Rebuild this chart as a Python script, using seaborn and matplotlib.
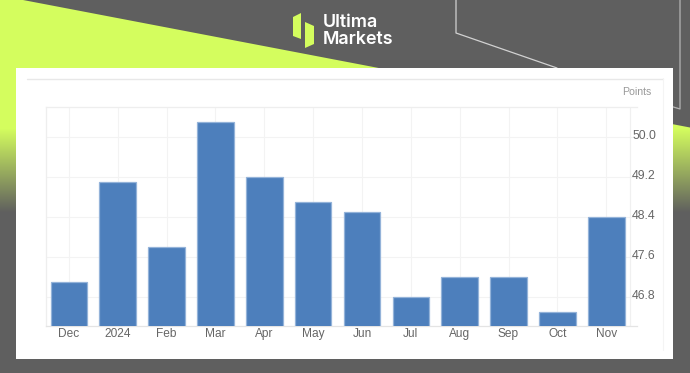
import matplotlib
matplotlib.use("Agg")
import matplotlib.pyplot as plt
from matplotlib.colors import LinearSegmentedColormap
from matplotlib.patches import Polygon, Rectangle
from matplotlib.transforms import ScaledTranslation
import numpy as np
import seaborn as sns

months = ["Dec", "2024", "Feb", "Mar", "Apr", "May", "Jun", "Jul", "Aug", "Sep", "Oct", "Nov"]
pmi = [47.1, 49.1, 47.8, 50.3, 49.2, 48.7, 48.5, 46.8, 47.2, 47.2, 46.5, 48.4]
y_ticks = [46.8, 47.6, 48.4, 49.2, 50.0]

W, H = 690, 373
GREY = "#5f5f5f"
LIME = "#d4fd5e"
BLUE = "#4d7fbc"

sns.set_theme(style="white")
plt.rcParams["font.family"] = ["Liberation Sans", "DejaVu Sans"]

fig = plt.figure(figsize=(W / 100, H / 100), dpi=100, facecolor=GREY)

# banner behind the card, in pixel coordinates
bg = fig.add_axes([0, 0, 1, 1])
bg.axis("off")
fade = LinearSegmentedColormap.from_list("fade", [LIME, GREY], N=256)
grad = np.clip((np.arange(240)[:, None] - 128) / 84, 0, 1)
img = bg.imshow(grad, cmap=fade, vmin=0, vmax=1, extent=[0, W, 240, 0], aspect="auto", zorder=1)
bg.set_xlim(0, W)
bg.set_ylim(H, 0)
lime_shape = Polygon([(0, 0), (23, 0), (690, 127.5), (690, 240), (0, 240)], facecolor="none", edgecolor="none")
bg.add_patch(lime_shape)
img.set_clip_path(lime_shape)

bg.plot([456, 456, 557], [0, 33, 68], color="#d2d2d2", lw=0.9, zorder=2)
bg.plot([680, 680, 670], [0, 109, 106], color="#b5b5b5", lw=0.9, zorder=2)

bg.add_patch(Rectangle((16, 68), 657, 291, facecolor="white", edgecolor="none", zorder=3))
bg.plot([27, 663], [78.5, 78.5], color="#e8e8e8", lw=1, zorder=4)
bg.plot([662.5, 662.5], [78, 350], color="#f4f4f4", lw=0.8, zorder=4)

# logo
bg.add_patch(Polygon([(293, 17), (301, 13), (301, 39), (293, 36)], facecolor=LIME, edgecolor="none", zorder=4))
bg.add_patch(Polygon([(305, 22), (314, 26), (314, 44), (305, 48)], facecolor=LIME, edgecolor="none", zorder=4))
bg.text(322.5, 22.5, "Ultima", family="Inter", weight=600, fontsize=12.9, color="white", va="center", ha="left", zorder=5)
bg.text(322.5, 39.5, "Markets", family="Inter", weight=600, fontsize=12.9, color="white", va="center", ha="left", zorder=5)
bg.text(651.5, 92, "Points", fontsize=7.6, color="#999999", va="center", ha="right", zorder=5)

# chart, placed at the pixel box of the plot area
left, right, top, bottom = 46, 637, 107, 326
ax = fig.add_axes([left / W, 1 - bottom / H, (right - left) / W, (bottom - top) / H], zorder=2)
ax.patch.set_alpha(0)
sns.barplot(x=months, y=pmi, color=BLUE, saturation=1, width=0.75, edgecolor="#94b3d9", linewidth=0.9,
            zorder=3, ax=ax)
ax.set_xlim(-0.47, 11.63)
ax.set_ylim(46.22, 50.6)
ax.set_xlabel("")
ax.set_ylabel("")
ax.yaxis.tick_right()
ax.set_yticks(y_ticks, [f"{v:.1f}" for v in y_ticks])
ax.tick_params(axis="both", length=0, labelcolor="#666666")
ax.tick_params(axis="x", pad=1.5, labelsize=8.6)
ax.tick_params(axis="y", pad=-3.5, labelsize=8.8)
for label in ax.get_yticklabels():
    label.set_transform(label.get_transform() + ScaledTranslation(0, 2 / 72, fig.dpi_scale_trans))
ax.grid(True, color="#f3f3f3", lw=0.8, zorder=0)
ax.set_axisbelow(True)
ax.axvline(11.49, color="#f0f0f0", lw=0.9, zorder=1)
for side, spine in ax.spines.items():
    spine.set_visible(side != "right")
    spine.set_color("#eeeeee")
    spine.set_linewidth(0.9)
ax.spines["bottom"].set_color("#e4e4e4")

fig.savefig("out.png", dpi=100, facecolor=GREY)
